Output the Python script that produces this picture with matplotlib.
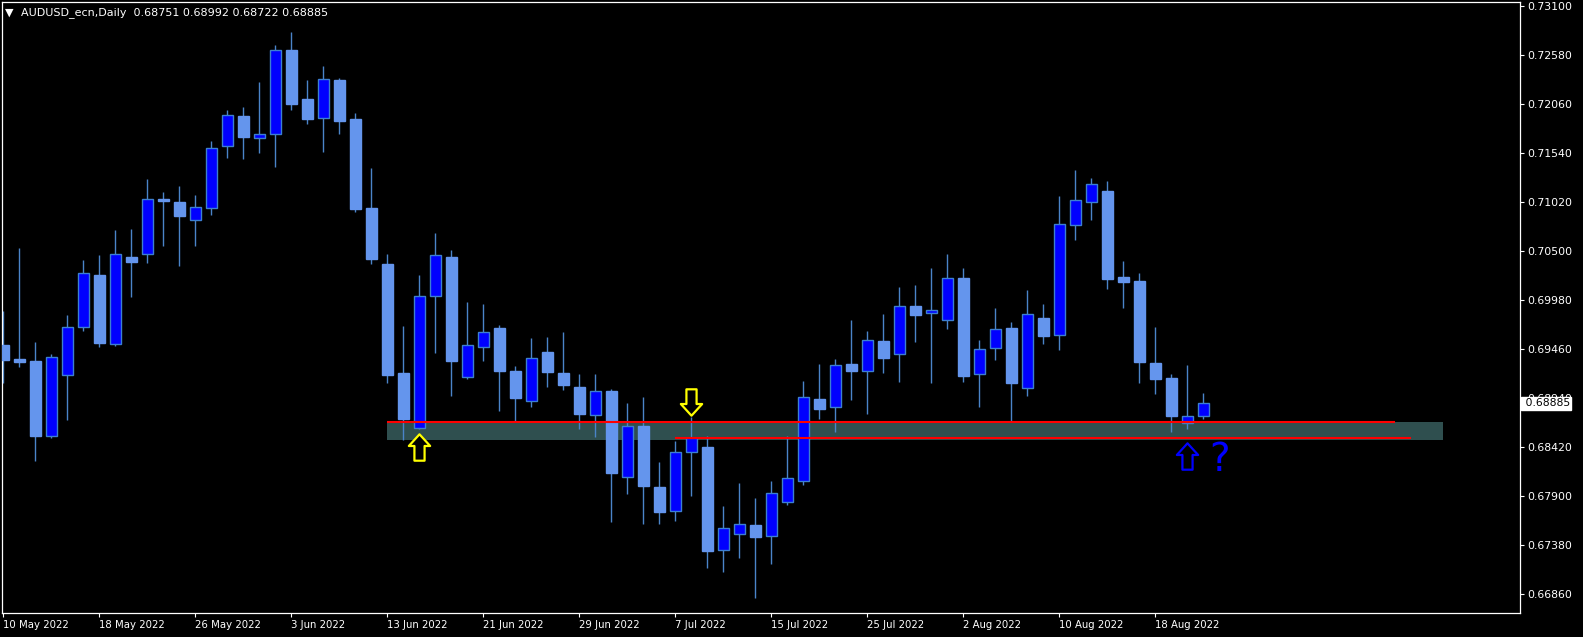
import matplotlib
matplotlib.use("Agg")
import matplotlib.pyplot as plt
import numpy as np
from matplotlib.path import Path

# AUDUSD_ecn 日足 (2022/5/10 - 2022/8/23) 画像から読み取った値
opens = [0.69505, 0.69353, 0.69335, 0.68543, 0.69184, 0.69693, 0.70248, 0.69512, 0.70438, 0.70467,
         0.71054, 0.71022, 0.70828, 0.70955, 0.71613, 0.71931, 0.71698, 0.71740, 0.72631, 0.72115,
         0.71910, 0.72316, 0.71902, 0.70958, 0.70364, 0.69205, 0.68621, 0.70022, 0.70438, 0.69162,
         0.69481, 0.69685, 0.69229, 0.68908, 0.69431, 0.69205, 0.69059, 0.68759, 0.69017, 0.68102,
         0.68646, 0.67999, 0.67741, 0.68367, 0.68423, 0.67327, 0.67497, 0.67596, 0.67476, 0.67836,
         0.68065, 0.68932, 0.68850, 0.69303, 0.69232, 0.69547, 0.69406, 0.69919, 0.69848, 0.69773,
         0.70216, 0.69194, 0.69476, 0.69685, 0.69052, 0.69791, 0.69608, 0.70775, 0.71019, 0.71139,
         0.70223, 0.70181, 0.69311, 0.69152, 0.68678, 0.68751]
highs = [0.69866, 0.70531, 0.69537, 0.69410, 0.69823, 0.70407, 0.70460, 0.70725, 0.70736, 0.71266,
         0.71128, 0.71192, 0.71096, 0.71669, 0.71998, 0.72030, 0.72295, 0.72687, 0.72825, 0.72316,
         0.72465, 0.72334, 0.71966, 0.71383, 0.70470, 0.69707, 0.70248, 0.70690, 0.70513, 0.69961,
         0.69940, 0.69717, 0.69285, 0.69579, 0.69590, 0.69643, 0.69197, 0.69197, 0.69038, 0.68890,
         0.68953, 0.68264, 0.68487, 0.68741, 0.68540, 0.67797, 0.68038, 0.67882, 0.68062, 0.68540,
         0.69123, 0.69303, 0.69356, 0.69770, 0.69653, 0.69834, 0.70120, 0.70141, 0.70322, 0.70470,
         0.70322, 0.69558, 0.69897, 0.69749, 0.70088, 0.69940, 0.71086, 0.71361, 0.71277, 0.71245,
         0.70396, 0.70269, 0.69696, 0.69194, 0.69293, 0.68992]
lows = [0.69105, 0.69275, 0.68278, 0.68522, 0.68709, 0.69657, 0.69487, 0.69494, 0.70017, 0.70378,
        0.70555, 0.70343, 0.70555, 0.70887, 0.71492, 0.71481, 0.71545, 0.71396, 0.72001, 0.71853,
        0.71556, 0.71746, 0.70919, 0.70367, 0.69105, 0.68497, 0.68615, 0.69423, 0.68967, 0.69147,
        0.69338, 0.68808, 0.68685, 0.68850, 0.69063, 0.69031, 0.68617, 0.68532, 0.67631, 0.67928,
        0.67609, 0.67609, 0.67641, 0.67906, 0.67143, 0.67100, 0.67249, 0.66818, 0.67185, 0.67810,
        0.68020, 0.68720, 0.68582, 0.68922, 0.68773, 0.69208, 0.69112, 0.69537, 0.69102, 0.69678,
        0.69116, 0.68847, 0.69346, 0.68685, 0.68964, 0.69519, 0.69452, 0.70619, 0.70831, 0.70102,
        0.69901, 0.69105, 0.68988, 0.68582, 0.68617, 0.68722]
closes = [0.69346, 0.69328, 0.68543, 0.69374, 0.69693, 0.70266, 0.69529, 0.70467, 0.70389, 0.71051,
          0.71036, 0.70877, 0.70966, 0.71592, 0.71942, 0.71715, 0.71740, 0.72631, 0.72065, 0.71906,
          0.72324, 0.71884, 0.70951, 0.70420, 0.69190, 0.68723, 0.70022, 0.70456, 0.69338, 0.69502,
          0.69640, 0.69232, 0.68946, 0.69364, 0.69222, 0.69084, 0.68776, 0.69014, 0.68150, 0.68643,
          0.68012, 0.67737, 0.68367, 0.68515, 0.67323, 0.67560, 0.67603, 0.67471, 0.67932, 0.68091,
          0.68950, 0.68826, 0.69290, 0.69232, 0.69555, 0.69367, 0.69916, 0.69826, 0.69873, 0.70213,
          0.69176, 0.69459, 0.69671, 0.69105, 0.69831, 0.69604, 0.70785, 0.71040, 0.71210, 0.70208,
          0.70176, 0.69328, 0.69147, 0.68755, 0.68755, 0.68885]

# 軸ラベル
date_labels = ["10 May 2022", "18 May 2022", "26 May 2022", "3 Jun 2022", "13 Jun 2022",
               "21 Jun 2022", "29 Jun 2022", "7 Jul 2022", "15 Jul 2022", "25 Jul 2022",
               "2 Aug 2022", "10 Aug 2022", "18 Aug 2022"]
price_ticks = [0.66860, 0.67380, 0.67900, 0.68420, 0.68940, 0.69460, 0.69980,
               0.70500, 0.71020, 0.71540, 0.72060, 0.72580, 0.73100]

# サポートゾーンと水平線 (バー番号, 価格)
zone_bars = [24, 90]
zone_prices = [0.68498, 0.68692]
upper_line = [24, 87, 0.68688]
lower_line = [42, 88, 0.68516]

# 矢印と「?」
yellow_up = [26, 0.68418]
yellow_down = [43, 0.68898]
blue_up = [74, 0.68329]
question = [76, 0.68290]


def arrow_marker(up=True):
    # 白抜き矢印 (MT4のアロー風)
    verts = [(0, 13), (10.5, 1.5), (5, 1.5), (5, -13), (-5, -13), (-5, 1.5), (-10.5, 1.5), (0, 13)]
    if not up:
        verts = [(x, -y) for x, y in verts]
    return Path(verts, closed=True)


def main():
    fig = plt.figure(figsize=(15.83, 6.37), dpi=100, facecolor="black")
    ax = fig.add_axes([2.3 / 1583, 24 / 637, (1520 - 2.3) / 1583, (613 - 2) / 637])
    ax.set_facecolor("black")

    x = np.arange(len(opens))
    o = np.array(opens)
    c = np.array(closes)
    bull = c > o

    # ゾーン
    ax.fill_between(zone_bars, zone_prices[0], zone_prices[1], color="#2f4f4f", lw=0, zorder=1)

    # ヒゲ
    ax.vlines(x, lows, highs, color="#4a84c8", lw=1.0, zorder=2)

    # 実体
    body_h = np.where(np.abs(c - o) < 0.00004, 0.00004, np.abs(c - o))
    body_b = np.minimum(o, c)
    ax.bar(x[bull], body_h[bull], bottom=body_b[bull], width=0.66,
           color="#0000ff", edgecolor="#3c7fd0", linewidth=1.0, zorder=3)
    ax.bar(x[~bull], body_h[~bull], bottom=body_b[~bull], width=0.66,
           color="#6495ed", edgecolor="#6495ed", linewidth=1.0, zorder=3)

    # 水平線
    ax.hlines(upper_line[2], upper_line[0], upper_line[1], color="#ff0000", lw=1.5, zorder=4)
    ax.hlines(lower_line[2], lower_line[0], lower_line[1], color="#ff0000", lw=1.5, zorder=4)

    # 矢印
    ax.plot(yellow_up[0], yellow_up[1], marker=arrow_marker(True), ms=19, mfc="black",
            mec="#ffff00", mew=1.6, zorder=5)
    ax.plot(yellow_down[0], yellow_down[1], marker=arrow_marker(False), ms=19, mfc="black",
            mec="#ffff00", mew=1.6, zorder=5)
    ax.plot(blue_up[0], blue_up[1], marker=arrow_marker(True), ms=19, mfc="black",
            mec="#0000ff", mew=1.6, zorder=5)
    ax.text(question[0], question[1], "?", color="#0000ff", fontsize=28,
            ha="center", va="center", zorder=5)

    ax.set_xlim(-0.06, 94.79)
    ax.set_ylim(0.66662, 0.731435)

    for s in ax.spines.values():
        s.set_color("white")
        s.set_linewidth(0.9)

    ax.set_xticks(np.arange(0, 76, 6))
    ax.set_xticklabels(date_labels, ha="left")
    ax.set_yticks(price_ticks)
    ax.set_yticklabels(["%.5f" % p for p in price_ticks])
    ax.yaxis.tick_right()
    ax.tick_params(axis="x", colors="white", labelsize=7.3, length=3, width=0.8, pad=2)
    ax.tick_params(axis="y", colors="white", labelsize=7.8, length=3, width=0.8, pad=2)

    # 現在値ラベル (0.68940 の目盛りラベルの上に重ねる)
    ax.annotate(" %.5f" % closes[-1], xy=(1, closes[-1]), xycoords=("axes fraction", "data"),
                xytext=(1.4, 0), textcoords="offset points", ha="left", va="center",
                color="black", fontsize=7.8, annotation_clip=False, zorder=10,
                bbox=dict(boxstyle="square,pad=0.12", fc="white", ec="white"))

    # ヘッダー
    fig.text(5 / 1583, 1 - 13 / 637, "\u25bc", color="white", fontsize=8, va="center")
    fig.text(21 / 1583, 1 - 13 / 637,
             "AUDUSD_ecn,Daily  %.5f %.5f %.5f %.5f" % (opens[-1], highs[-1], lows[-1], closes[-1]),
             color="white", fontsize=8.0, va="center")

    fig.savefig("out.png", dpi=100, facecolor="black")


if __name__ == "__main__":
    main()
